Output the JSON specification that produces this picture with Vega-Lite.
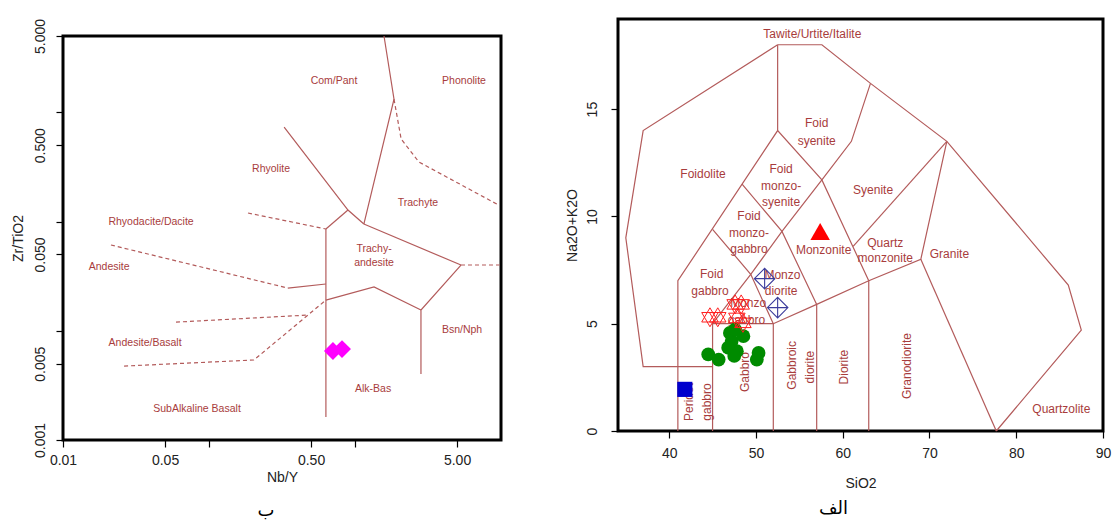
{
  "$schema": "https://vega.github.io/schema/vega-lite/v6.json",
  "padding": {"left": 9, "top": 16, "right": 2, "bottom": 0},
  "config": {
    "font": "Liberation Sans",
    "view": {"stroke": "black", "strokeWidth": 3},
    "axis": {"grid": false, "domain": false, "tickColor": "black", "tickSize": 7, "tickWidth": 1.2, "labelFont": "Liberation Sans", "labelFontSize": 14, "labelColor": "#222", "titleFont": "Liberation Sans", "titleFontSize": 14, "titleFontWeight": "normal", "titleColor": "#222", "labelOverlap": false, "labelFlush": false, "labelBound": false},
    "title": {"font": "DejaVu Sans", "fontSize": 18, "fontWeight": "normal", "color": "black"}
  },
  "datasets": {
    "wf_lines": [
      {"seg": "s1", "type": "solid", "o": 1, "x": 1.58, "y": 5.0},
      {"seg": "s1", "type": "solid", "o": 2, "x": 1.85, "y": 1.32},
      {"seg": "s1", "type": "solid", "o": 3, "x": 1.15, "y": 0.0949},
      {"seg": "s2", "type": "dashed", "o": 1, "x": 1.85, "y": 1.32},
      {"seg": "s2", "type": "dashed", "o": 2, "x": 2.07, "y": 0.57},
      {"seg": "s2", "type": "dashed", "o": 3, "x": 2.74, "y": 0.351},
      {"seg": "s2", "type": "dashed", "o": 4, "x": 9.6, "y": 0.142},
      {"seg": "s3", "type": "solid", "o": 1, "x": 0.327, "y": 0.734},
      {"seg": "s3", "type": "solid", "o": 2, "x": 0.895, "y": 0.1276},
      {"seg": "s3", "type": "solid", "o": 3, "x": 1.15, "y": 0.0949},
      {"seg": "s4", "type": "solid", "o": 1, "x": 0.895, "y": 0.1276},
      {"seg": "s4", "type": "solid", "o": 2, "x": 0.632, "y": 0.0855},
      {"seg": "s5", "type": "dashed", "o": 1, "x": 0.185, "y": 0.1197},
      {"seg": "s5", "type": "dashed", "o": 2, "x": 0.632, "y": 0.0855},
      {"seg": "s6", "type": "solid", "o": 1, "x": 0.632, "y": 0.0855},
      {"seg": "s6", "type": "solid", "o": 2, "x": 0.632, "y": 0.00162},
      {"seg": "s7", "type": "solid", "o": 1, "x": 1.15, "y": 0.0949},
      {"seg": "s7", "type": "solid", "o": 2, "x": 5.32, "y": 0.04},
      {"seg": "s8", "type": "dashed", "o": 1, "x": 5.32, "y": 0.04},
      {"seg": "s8", "type": "dashed", "o": 2, "x": 9.8, "y": 0.04},
      {"seg": "s9", "type": "solid", "o": 1, "x": 5.32, "y": 0.04},
      {"seg": "s9", "type": "solid", "o": 2, "x": 2.83, "y": 0.0155},
      {"seg": "s9", "type": "solid", "o": 3, "x": 2.83, "y": 0.00402},
      {"seg": "s10", "type": "solid", "o": 1, "x": 2.83, "y": 0.0155},
      {"seg": "s10", "type": "solid", "o": 2, "x": 1.35, "y": 0.0252},
      {"seg": "s10", "type": "solid", "o": 3, "x": 0.632, "y": 0.0191},
      {"seg": "s11", "type": "dashed", "o": 1, "x": 0.0213, "y": 0.061},
      {"seg": "s11", "type": "dashed", "o": 2, "x": 0.347, "y": 0.0246},
      {"seg": "s12", "type": "solid", "o": 1, "x": 0.347, "y": 0.0246},
      {"seg": "s12", "type": "solid", "o": 2, "x": 0.632, "y": 0.0268},
      {"seg": "s13", "type": "dashed", "o": 1, "x": 0.0594, "y": 0.012},
      {"seg": "s13", "type": "dashed", "o": 2, "x": 0.461, "y": 0.0139},
      {"seg": "s14", "type": "dashed", "o": 1, "x": 0.0262, "y": 0.00475},
      {"seg": "s14", "type": "dashed", "o": 2, "x": 0.203, "y": 0.0054},
      {"seg": "s14", "type": "dashed", "o": 3, "x": 0.632, "y": 0.0191}
    ],
    "wf_labels": [
      {"t": "Com/Pant", "x": 0.718, "y": 1.94},
      {"t": "Phonolite", "x": 5.58, "y": 1.94},
      {"t": "Rhyolite", "x": 0.266, "y": 0.303},
      {"t": "Trachyte", "x": 2.7, "y": 0.148},
      {"t": "Rhyodacite/Dacite", "x": 0.0401, "y": 0.0991},
      {"t": "Trachy-", "x": 1.35, "y": 0.056},
      {"t": "andesite", "x": 1.35, "y": 0.0417},
      {"t": "Andesite", "x": 0.0207, "y": 0.0384},
      {"t": "Bsn/Nph", "x": 5.41, "y": 0.01016},
      {"t": "Andesite/Basalt", "x": 0.0365, "y": 0.00773},
      {"t": "Alk-Bas", "x": 1.33, "y": 0.00292},
      {"t": "SubAlkaline Basalt", "x": 0.0828, "y": 0.00192}
    ],
    "wf_points": [
      {"x": 0.706, "y": 0.00652},
      {"x": 0.815, "y": 0.0068}
    ],
    "tas_lines": [
      {"seg": "t1", "o": 1, "x": 52.5, "y": 18},
      {"seg": "t1", "o": 2, "x": 37, "y": 14},
      {"seg": "t1", "o": 3, "x": 35, "y": 9},
      {"seg": "t1", "o": 4, "x": 37, "y": 3},
      {"seg": "t1", "o": 5, "x": 45, "y": 3},
      {"seg": "t2", "o": 1, "x": 52.5, "y": 18},
      {"seg": "t2", "o": 2, "x": 57.6, "y": 18},
      {"seg": "t2", "o": 3, "x": 63.2, "y": 16.2},
      {"seg": "t2", "o": 4, "x": 72, "y": 13.5},
      {"seg": "t2", "o": 5, "x": 86, "y": 6.8},
      {"seg": "t2", "o": 6, "x": 87.5, "y": 4.7},
      {"seg": "t2", "o": 7, "x": 77.7, "y": 0},
      {"seg": "t3", "o": 1, "x": 52.5, "y": 18},
      {"seg": "t3", "o": 2, "x": 52.5, "y": 14},
      {"seg": "t4", "o": 1, "x": 41, "y": 0},
      {"seg": "t4", "o": 2, "x": 41, "y": 7},
      {"seg": "t4", "o": 3, "x": 52.5, "y": 14},
      {"seg": "t4", "o": 4, "x": 57.6, "y": 11.7},
      {"seg": "t4", "o": 5, "x": 63, "y": 7},
      {"seg": "t5", "o": 1, "x": 57.6, "y": 11.7},
      {"seg": "t5", "o": 2, "x": 61, "y": 13.5},
      {"seg": "t5", "o": 3, "x": 63.2, "y": 16.2},
      {"seg": "t6", "o": 1, "x": 45, "y": 0},
      {"seg": "t6", "o": 2, "x": 45, "y": 5},
      {"seg": "t6", "o": 3, "x": 52, "y": 5},
      {"seg": "t6", "o": 4, "x": 57, "y": 5.9},
      {"seg": "t6", "o": 5, "x": 63, "y": 7},
      {"seg": "t6", "o": 6, "x": 69, "y": 8},
      {"seg": "t6", "o": 7, "x": 72, "y": 13.5},
      {"seg": "t7", "o": 1, "x": 69, "y": 8},
      {"seg": "t7", "o": 2, "x": 77.7, "y": 0},
      {"seg": "t8", "o": 1, "x": 52, "y": 0},
      {"seg": "t8", "o": 2, "x": 52, "y": 5},
      {"seg": "t9", "o": 1, "x": 57, "y": 0},
      {"seg": "t9", "o": 2, "x": 57, "y": 5.9},
      {"seg": "t10", "o": 1, "x": 63, "y": 0},
      {"seg": "t10", "o": 2, "x": 63, "y": 7},
      {"seg": "t11", "o": 1, "x": 45, "y": 5},
      {"seg": "t11", "o": 2, "x": 49.4, "y": 7.3},
      {"seg": "t11", "o": 3, "x": 53, "y": 9.3},
      {"seg": "t11", "o": 4, "x": 57.6, "y": 11.7},
      {"seg": "t12", "o": 1, "x": 45, "y": 9.4},
      {"seg": "t12", "o": 2, "x": 49.4, "y": 7.3},
      {"seg": "t12", "o": 3, "x": 52, "y": 5},
      {"seg": "t13", "o": 1, "x": 48.4, "y": 11.5},
      {"seg": "t13", "o": 2, "x": 53, "y": 9.3},
      {"seg": "t13", "o": 3, "x": 57, "y": 5.9},
      {"seg": "t14", "o": 1, "x": 61.2, "y": 8.6},
      {"seg": "t14", "o": 2, "x": 72, "y": 13.5}
    ],
    "tas_labels": [
      {"t": "Tawite/Urtite/Italite", "x": 56.5, "y": 18.5},
      {"t": "Foid", "x": 57.0, "y": 14.35},
      {"t": "syenite", "x": 57.0, "y": 13.5},
      {"t": "Foidolite", "x": 43.9, "y": 11.97},
      {"t": "Foid", "x": 52.9, "y": 12.2},
      {"t": "monzo-", "x": 52.9, "y": 11.4},
      {"t": "syenite", "x": 52.9, "y": 10.65},
      {"t": "Syenite", "x": 63.5, "y": 11.24},
      {"t": "Foid", "x": 49.2, "y": 10.0},
      {"t": "monzo-", "x": 49.2, "y": 9.22},
      {"t": "gabbro", "x": 49.2, "y": 8.48},
      {"t": "Monzonite", "x": 57.8, "y": 8.45},
      {"t": "Quartz", "x": 64.9, "y": 8.76},
      {"t": "monzonite", "x": 64.9, "y": 8.06},
      {"t": "Granite", "x": 72.3, "y": 8.25},
      {"t": "Foid", "x": 44.9, "y": 7.32},
      {"t": "gabbro", "x": 44.7, "y": 6.54},
      {"t": "Monzo", "x": 53.05, "y": 7.29},
      {"t": "diorite", "x": 52.9, "y": 6.54},
      {"t": "Monzo", "x": 49.1, "y": 5.97},
      {"t": "gabbro", "x": 48.9, "y": 5.19},
      {"t": "Quartzolite", "x": 85.2, "y": 1.02}
    ],
    "tas_vlabels": [
      {"t": "Peridot", "x": 42.25, "y": 1.35},
      {"t": "gabbro", "x": 44.4, "y": 1.35},
      {"t": "Gabbro", "x": 48.7, "y": 2.75},
      {"t": "Gabbroic", "x": 54.15, "y": 3.06},
      {"t": "diorite", "x": 56.2, "y": 2.98},
      {"t": "Diorite", "x": 60.2, "y": 2.98},
      {"t": "Granodiorite", "x": 67.4, "y": 3.03}
    ],
    "tas_points": [
      {"g": "green", "x": 44.5, "y": 3.57},
      {"g": "green", "x": 45.7, "y": 3.33},
      {"g": "green", "x": 47.0, "y": 4.57},
      {"g": "green", "x": 47.2, "y": 4.19},
      {"g": "green", "x": 47.8, "y": 3.72},
      {"g": "green", "x": 48.55, "y": 4.42},
      {"g": "green", "x": 47.6, "y": 4.73},
      {"g": "green", "x": 50.3, "y": 3.64},
      {"g": "green", "x": 50.1, "y": 3.33},
      {"g": "green", "x": 46.8, "y": 3.88},
      {"g": "green", "x": 47.5, "y": 3.5},
      {"g": "square", "x": 41.8, "y": 1.94},
      {"g": "triangle", "x": 57.4, "y": 9.3},
      {"g": "diamondplus", "x": 51.0, "y": 7.1},
      {"g": "diamondplus", "x": 52.5, "y": 5.75},
      {"g": "star", "x": 44.7, "y": 5.3},
      {"g": "star", "x": 45.6, "y": 5.3},
      {"g": "star", "x": 47.6, "y": 5.9},
      {"g": "star", "x": 48.3, "y": 5.9},
      {"g": "star", "x": 47.8, "y": 5.27},
      {"g": "star", "x": 48.5, "y": 5.04}
    ]
  },
  "spacing": 59,
  "hconcat": [
    {
      "spacing": -4,
      "vconcat": [
        {
          "width": 438,
          "height": 1,
          "view": {"stroke": null},
          "data": {"values": [{"k": 1}]},
          "mark": {"type": "point", "opacity": 0, "size": 0},
          "encoding": {}
        },
        {
          "width": 438,
          "height": 404,
          "title": {"text": "ب", "orient": "bottom", "dx": -16, "offset": 18},
          "encoding": {
            "x": {"field": "x", "type": "quantitative", "scale": {"type": "log", "domain": [0.01, 10], "nice": false},
                  "axis": {"title": "Nb/Y", "values": [0.01, 0.05, 0.1, 0.5, 1, 5], "labelExpr": "datum.value == 0.1 || datum.value == 1 ? '' : format(datum.value, '.2f')", "labelPadding": 6, "titlePadding": 3}},
            "y": {"field": "y", "type": "quantitative", "scale": {"type": "log", "domain": [0.001, 5], "nice": false},
                  "axis": {"title": "Zr/TiO2", "values": [0.001, 0.005, 0.01, 0.05, 0.1, 0.5, 1, 5], "labelExpr": "datum.value == 0.01 || datum.value == 0.1 || datum.value == 1 ? '' : format(datum.value, '.3f')", "labelAngle": 270, "labelAlign": "center", "labelBaseline": "bottom", "labelPadding": 9, "titlePadding": 8}}
          },
          "layer": [
            {
              "data": {"name": "wf_lines"},
              "transform": [{"filter": "datum.type == 'solid'"}],
              "mark": {"type": "line", "color": "#b35b5b", "strokeWidth": 1.2},
              "encoding": {"detail": {"field": "seg"}, "order": {"field": "o"}}
            },
            {
              "data": {"name": "wf_lines"},
              "transform": [{"filter": "datum.type == 'dashed'"}],
              "mark": {"type": "line", "color": "#b35b5b", "strokeWidth": 1.2, "strokeDash": [4, 3]},
              "encoding": {"detail": {"field": "seg"}, "order": {"field": "o"}}
            },
            {
              "data": {"name": "wf_labels"},
              "mark": {"type": "text", "fontSize": 10.5, "color": "#a83c3c", "font": "Liberation Sans"},
              "encoding": {"text": {"field": "t"}}
            },
            {
              "data": {"name": "wf_points"},
              "mark": {"type": "point", "shape": "diamond", "filled": true, "color": "#ff00ff", "opacity": 1, "size": 320},
              "encoding": {}
            }
          ]
        }
      ]
    },
    {
      "width": 485,
      "height": 412,
      "title": {"text": "الف", "orient": "bottom", "dx": -27, "offset": 10},
      "encoding": {
        "x": {"field": "x", "type": "quantitative", "scale": {"domain": [34.1, 90], "nice": false, "zero": false},
              "axis": {"title": "SiO2", "values": [40, 50, 60, 70, 80, 90], "labelPadding": 8, "titlePadding": 16}},
        "y": {"field": "y", "type": "quantitative", "scale": {"domain": [0, 19.2], "nice": false},
              "axis": {"title": "Na2O+K2O", "values": [0, 5, 10, 15], "labelAngle": 270, "labelAlign": "center", "labelBaseline": "bottom", "labelPadding": 12, "titlePadding": 6}}
      },
      "layer": [
        {
          "data": {"name": "tas_lines"},
          "mark": {"type": "line", "color": "#b35b5b", "strokeWidth": 1.2},
          "encoding": {"detail": {"field": "seg"}, "order": {"field": "o"}}
        },
        {
          "data": {"name": "tas_labels"},
          "mark": {"type": "text", "fontSize": 12, "color": "#a83c3c", "font": "Liberation Sans"},
          "encoding": {"text": {"field": "t"}}
        },
        {
          "data": {"name": "tas_vlabels"},
          "mark": {"type": "text", "fontSize": 12, "color": "#a83c3c", "font": "Liberation Sans", "angle": 270},
          "encoding": {"text": {"field": "t"}}
        },
        {
          "data": {"name": "tas_points"},
          "transform": [{"filter": "datum.g == 'green'"}],
          "mark": {"type": "point", "shape": "circle", "filled": true, "color": "#008b00", "opacity": 1, "size": 190},
          "encoding": {}
        },
        {
          "data": {"name": "tas_points"},
          "transform": [{"filter": "datum.g == 'square'"}],
          "mark": {"type": "point", "shape": "square", "filled": true, "color": "#0000cd", "opacity": 1, "size": 230},
          "encoding": {}
        },
        {
          "data": {"name": "tas_points"},
          "transform": [{"filter": "datum.g == 'triangle'"}],
          "mark": {"type": "point", "shape": "triangle-up", "filled": true, "color": "#ff0000", "opacity": 1, "size": 380},
          "encoding": {}
        },
        {
          "data": {"name": "tas_points"},
          "transform": [{"filter": "datum.g == 'diamondplus'"}],
          "mark": {"type": "point", "shape": "M-1,0L0,-1L1,0L0,1Z M-1,0L1,0 M0,-1L0,1", "filled": false, "color": "#3c3c9c", "opacity": 1, "strokeWidth": 1.1, "size": 420},
          "encoding": {}
        },
        {
          "data": {"name": "tas_points"},
          "transform": [{"filter": "datum.g == 'star'"}],
          "mark": {"type": "point", "shape": "M0,-1L0.87,0.5L-0.87,0.5Z M0,1L0.87,-0.5L-0.87,-0.5Z", "filled": false, "color": "#ff2020", "opacity": 1, "strokeWidth": 1, "size": 360},
          "encoding": {}
        }
      ]
    }
  ]
}
